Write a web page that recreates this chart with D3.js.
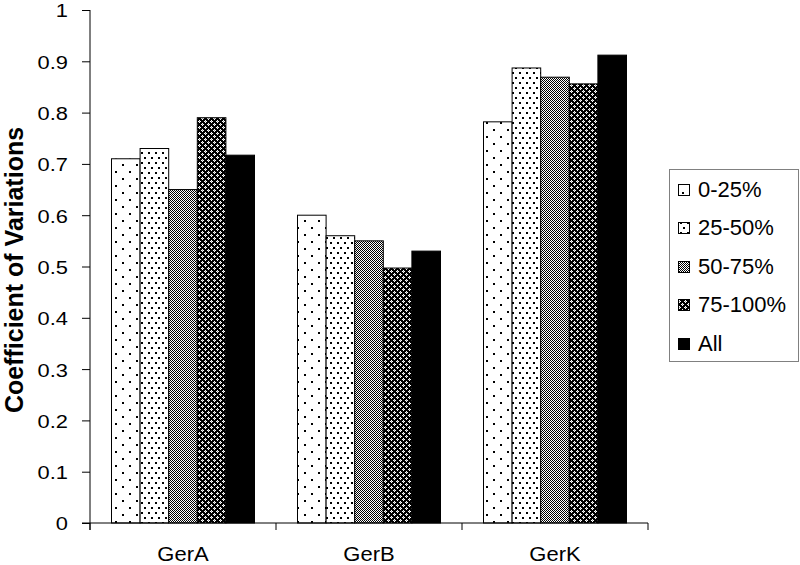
<!DOCTYPE html>
<html><head><meta charset="utf-8">
<script src="https://cdn.jsdelivr.net/npm/d3@7"></script>
<style>body{margin:0;background:#fff}svg{display:block}text{font-family:"Liberation Sans",Arial,sans-serif;fill:#000}</style>
</head><body>
<svg id="c" width="800" height="565"></svg>
<script>
const categories = ["GerA", "GerB", "GerK"];
const seriesNames = ["0-25%", "25-50%", "50-75%", "75-100%", "All"];
const s0_25   = [0.71, 0.60, 0.782];
const s25_50  = [0.73, 0.56, 0.887];
const s50_75  = [0.65, 0.55, 0.869];
const s75_100 = [0.79, 0.497, 0.856];
const sAll    = [0.717, 0.53, 0.912];
const yTicks = [0, 0.1, 0.2, 0.3, 0.4, 0.5, 0.6, 0.7, 0.8, 0.9, 1];
const yTickLabels = ["0", "0.1", "0.2", "0.3", "0.4", "0.5", "0.6", "0.7", "0.8", "0.9", "1"];
const yTitle = "Coefficient of Variations";

const values = [s0_25, s25_50, s50_75, s75_100, sAll];
const svg = d3.select("#c");
const defs = svg.append("defs");

function pat(id, w, h, bg, rects) {
  const p = defs.append("pattern").attr("id", id).attr("patternUnits", "userSpaceOnUse")
    .attr("width", w).attr("height", h);
  p.append("rect").attr("width", w).attr("height", h).attr("fill", bg);
  rects.forEach(r => p.append("rect").attr("x", r[0]).attr("y", r[1]).attr("width", r[2]).attr("height", r[3]).attr("fill", r[4]).attr("shape-rendering","crispEdges"));
}
pat("p0", 14, 14, "#fff", [[3,3,2,2,"#000"],[10,10,2,2,"#000"]]);
pat("p1", 7, 10, "#fff", [[1,2,2,2,"#000"],[4,7,2,2,"#000"]]);
pat("p2", 2, 2, "#fff", [[0,0,1,1,"#000"],[1,1,1,1,"#000"]]);
pat("p3", 6, 6, "#000", [[1,0,1,1,"#fff"],[0,1,1,1,"#fff"],[2,1,1,1,"#fff"],[1,2,1,1,"#fff"],[4,3,1,1,"#fff"],[3,4,1,1,"#fff"],[5,4,1,1,"#fff"],[4,5,1,1,"#fff"],[1,1,1,1,"#aaa"],[4,4,1,1,"#aaa"]]);
const fills = ["url(#p0)", "url(#p1)", "url(#p2)", "url(#p3)", "#000"];

const x0 = 90, x1 = 648, yBot = 523, yTop = 10;
const x = d3.scaleBand().domain(categories).range([x0, x1]).paddingInner(0).paddingOuter(0);
const xs = d3.scaleBand().domain(seriesNames).range([21.5, x.bandwidth() - 21.5]).padding(0);
const y = d3.scaleLinear().domain([0, 1]).range([yBot, yTop]);

const g = svg.append("g");
categories.forEach((c, ci) => {
  seriesNames.forEach((s, si) => {
    const v = values[si][ci];
    g.append("rect")
      .attr("x", x(c) + xs(s)).attr("y", y(v))
      .attr("width", xs.bandwidth()).attr("height", y(0) - y(v))
      .attr("fill", fills[si]).attr("stroke", "#000").attr("stroke-width", 1);
  });
});

const yAxis = d3.axisLeft(y).tickValues(yTicks).tickSize(8).tickFormat((d, i) => yTickLabels[i]);
const ya = svg.append("g").attr("transform", `translate(${x0},0)`).call(yAxis);
ya.select(".domain").attr("stroke", "#000").attr("d", `M0,${yTop}V${yBot+7}`);
ya.selectAll(".tick line").attr("stroke", "#000");
ya.selectAll(".tick text").each(function() {
  const t = d3.select(this);
  t.attr("x", null).attr("dy", null).attr("font-size", 19).attr("text-anchor", "end")
   .attr("dominant-baseline", "central")
   .attr("transform", "translate(-22,0) scale(1.15,1)");
});

const xa = svg.append("g");
xa.append("line").attr("x1", x0 - 8).attr("x2", x1).attr("y1", yBot).attr("y2", yBot).attr("stroke", "#000");
const bounds = categories.map(c => x(c)).concat([x1]);
xa.selectAll("line.tk").data(bounds).enter().append("line").attr("class","tk")
  .attr("x1", d => d).attr("x2", d => d).attr("y1", yBot).attr("y2", yBot + 7).attr("stroke", "#000");
xa.selectAll("text").data(categories).enter().append("text")
  .attr("transform", d => `translate(${x(d) + x.bandwidth()/2},561) scale(1.1,1)`)
  .attr("text-anchor", "middle").attr("font-size", 20).text(d => d);

svg.append("text").attr("transform", "translate(23,270) rotate(-90)")
  .attr("text-anchor", "middle").attr("font-size", 25).attr("font-weight", "bold").text(yTitle);

const lg = svg.append("g");
lg.append("rect").attr("x", 669.5).attr("y", 169.5).attr("width", 129).attr("height", 192)
  .attr("fill", "#fff").attr("stroke", "#808080").attr("stroke-width", 1);
seriesNames.forEach((s, i) => {
  const cy = 189 + i * 38.5;
  lg.append("rect").attr("x", 678.5).attr("y", Math.round(cy - 5.5) + 0.5).attr("width", 11).attr("height", 11)
    .attr("fill", fills[i]).attr("stroke", "#000");
  lg.append("text").attr("transform", `translate(698,${cy})`)
    .attr("dominant-baseline", "central").attr("font-size", 22).text(s);
});
</script>
</body></html>
